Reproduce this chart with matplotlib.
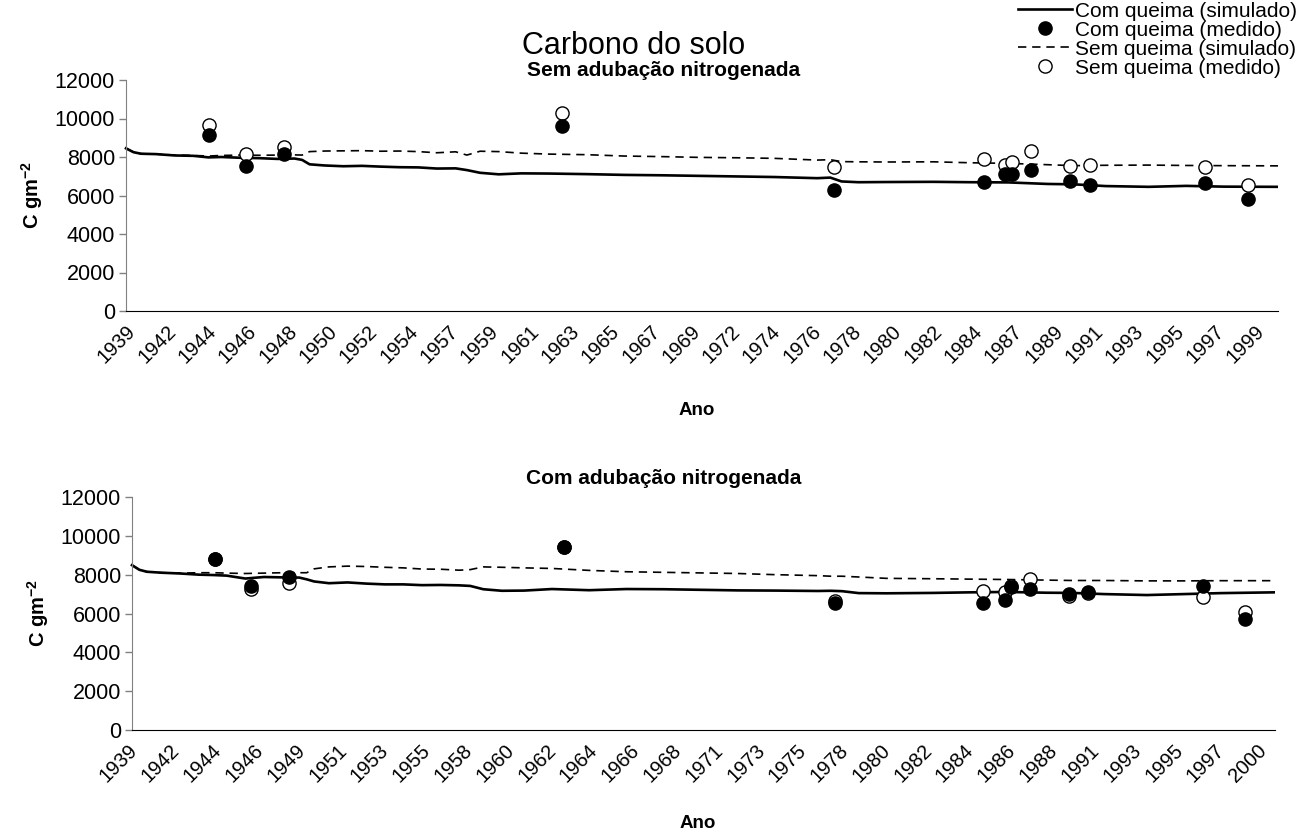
import matplotlib
matplotlib.use("Agg")
import matplotlib.pyplot as plt
from matplotlib.lines import Line2D
import numpy as np

plt.rcParams['font.family'] = ['Liberation Sans', 'DejaVu Sans']
plt.rcParams['mathtext.fontset'] = 'custom'
plt.rcParams['mathtext.rm'] = 'Liberation Sans'
plt.rcParams['mathtext.bf'] = 'Liberation Sans:bold'

# simulated series (decimal year, g C m-2)
sim_years = [1939.4, 1939.8, 1940.2, 1941.0, 1942.0, 1943.0, 1943.8, 1944.5, 1945.5, 1946.5,
             1947.5, 1948.4, 1948.8, 1949.2, 1950.0, 1951.0, 1952.0, 1953.0, 1954.0, 1955.0,
             1956.0, 1957.0, 1957.6, 1958.3, 1959.3, 1960.5, 1962.0, 1964.0, 1966.0, 1968.0,
             1970.0, 1972.0, 1974.0, 1976.3, 1977.0, 1977.6, 1978.5, 1980.0, 1982.5, 1984.5,
             1986.5, 1988.6, 1990.0, 1991.7, 1994.0, 1996.0, 1998.0, 2000.9]

top_com_sim = [8450, 8250, 8170, 8150, 8080, 8060, 7980, 8000, 7960, 7940,
               7900, 7920, 7850, 7620, 7560, 7520, 7540, 7500, 7470, 7460,
               7400, 7410, 7320, 7180, 7100, 7150, 7140, 7110, 7070, 7050,
               7020, 6990, 6960, 6900, 6930, 6730, 6690, 6700, 6710, 6690,
               6680, 6600, 6580, 6490, 6450, 6500, 6460, 6450]
top_sem_sim = [8450, 8250, 8170, 8150, 8100, 8080, 8050, 8080, 8100, 8090,
               8100, 8110, 8100, 8280, 8310, 8320, 8330, 8300, 8310, 8280,
               8220, 8270, 8100, 8300, 8280, 8200, 8150, 8120, 8050, 8020,
               7980, 7960, 7930, 7840, 7860, 7760, 7750, 7740, 7750, 7700,
               7670, 7600, 7550, 7570, 7580, 7560, 7550, 7540]
bot_com_sim = [8490, 8250, 8150, 8100, 8060, 8000, 7980, 7950, 7800, 7880,
               7860, 7850, 7760, 7650, 7560, 7600, 7540, 7500, 7500, 7460,
               7470, 7450, 7420, 7250, 7170, 7180, 7260, 7200, 7260, 7250,
               7220, 7190, 7180, 7160, 7170, 7150, 7050, 7040, 7060, 7090,
               7110, 7070, 7060, 7000, 6950, 7000, 7050, 7090]
bot_sem_sim = [8490, 8250, 8150, 8100, 8080, 8100, 8100, 8080, 8060, 8080,
               8100, 8100, 8100, 8300, 8400, 8440, 8420, 8380, 8350, 8290,
               8280, 8230, 8260, 8400, 8380, 8350, 8320, 8220, 8150, 8120,
               8090, 8060, 8000, 7950, 7920, 7920, 7880, 7810, 7790, 7770,
               7750, 7720, 7700, 7700, 7680, 7680, 7690, 7690]

# measured
obs_years = [1943.85, 1945.8, 1947.85, 1962.65, 1977.2, 1985.2, 1986.35, 1986.7,
             1987.7, 1989.8, 1990.85, 1997.0, 1999.3]
top_com_obs = [9140, 7530, 8180, 9610, 6280, 6680, 7110, 7110, 7350, 6760, 6540, 6660, 5800]
top_sem_obs = [9660, 8130, 8500, 10300, 7460, 7890, 7580, 7750, 8320, 7540, 7610, 7490, 6540]
bot_com_obs = [8830, 7430, 7890, 9430, 6520, 6550, 6720, 7380, 7260, 7030, 7120, 7400, 5740]
bot_sem_obs = [8830, 7260, 7550, 9430, 6640, 7170, 7120, 7420, 7770, 6900, 7060, 6850, 6080]

top_labels = ['1939', '1942', '1944', '1946', '1948', '1950', '1952', '1954', '1957', '1959',
              '1961', '1963', '1965', '1967', '1969', '1972', '1974', '1976', '1978', '1980',
              '1982', '1984', '1987', '1989', '1991', '1993', '1995', '1997', '1999']
bot_labels = ['1939', '1942', '1944', '1946', '1949', '1951', '1953', '1955', '1958', '1960',
              '1962', '1964', '1966', '1968', '1971', '1973', '1975', '1978', '1980', '1982',
              '1984', '1986', '1988', '1991', '1993', '1995', '1997', '2000']

legend_labels = ['Com queima (simulado)', 'Com queima (medido)',
                 'Sem queima (simulado)', 'Sem queima (medido)']

X0, X1 = 1939.4, 2000.9   # drawn extent of the time axis
XPAD = 1938.8             # room on the left for the first category label

FS = 14.5
W, H = 1300, 836
TITLE_X = 664             # panel titles sit a bit left of the axes centre
fig = plt.figure(figsize=(13, 8.36), dpi=100)


def make_axes(left_px, right_px, top_px, bottom_px):
    ppy = (right_px - left_px) / (X1 - X0)
    l = left_px - (X0 - XPAD) * ppy
    ax = fig.add_axes([l / W, 1 - bottom_px / H, (right_px - l) / W,
                       (bottom_px - top_px) / H])
    return ax, (TITLE_X - l) / (right_px - l)


ax1, tx1 = make_axes(126, 1278, 80, 311)
ax2, tx2 = make_axes(132, 1275, 497, 730)


def draw(ax, com_sim, sem_sim, com_obs, sem_obs, labels, start, step, title, tx, tpad, xpad):
    ax.plot(sim_years, com_sim, color='black', lw=1.9, zorder=2)
    ax.plot(sim_years, sem_sim, color='black', lw=1.2, ls=(0, (5, 3.5)), zorder=2)
    ax.plot(obs_years, sem_obs, 'o', ms=9.5, mfc='white', mec='black', mew=1.0, zorder=3)
    ax.plot(obs_years, com_obs, 'o', ms=9.5, mfc='black', mec='black', zorder=4)
    ax.set_xlim(XPAD, X1)
    ax.set_ylim(0, 12000)
    ax.set_yticks(range(0, 12001, 2000))
    ax.set_xticks(start + step * np.arange(len(labels)))
    ax.set_xticklabels(labels, rotation=45, ha='right', va='top', rotation_mode='anchor')
    ax.tick_params(axis='x', length=0, pad=8, labelsize=FS)
    ax.tick_params(axis='y', length=5, width=1, color='#808080', labelsize=15.5, pad=3)
    for s in ['top', 'right']:
        ax.spines[s].set_visible(False)
    ax.spines['left'].set_position(('data', X0))
    ax.spines['left'].set_color('#808080')
    ax.spines['bottom'].set_bounds(X0, X1)
    ax.spines['bottom'].set_color('black')
    ax.set_ylabel(r'C gm$^{\mathbf{-2}}$', fontsize=FS, fontweight='bold', labelpad=7)
    ax.set_xlabel('Ano', fontsize=FS - 1, fontweight='bold', labelpad=xpad)
    ax.set_title(title, fontsize=15, fontweight='bold', x=tx, pad=tpad)


draw(ax1, top_com_sim, top_sem_sim, top_com_obs, top_sem_obs, top_labels, 1939.4, 2.152,
     'Sem adubação nitrogenada', tx1, 3, 25)
draw(ax2, bot_com_sim, bot_sem_sim, bot_com_obs, bot_sem_obs, bot_labels, 1939.19, 2.249,
     'Com adubação nitrogenada', tx2, 9, 21)

fig.text(0.487, 0.945, 'Carbono do solo', fontsize=22, ha='center', va='center')

handles = [Line2D([], [], color='black', lw=1.9),
           Line2D([], [], ls='', marker='o', ms=9.5, mfc='black', mec='black'),
           Line2D([], [], color='black', lw=1.2, ls=(0, (5, 3.5))),
           Line2D([], [], ls='', marker='o', ms=9.5, mfc='white', mec='black', mew=1.0)]
fig.legend(handles, legend_labels, loc='upper right', bbox_to_anchor=(0.998, 0.998),
           frameon=False, fontsize=15, handlelength=2.6, handletextpad=0.15,
           labelspacing=0.0, borderpad=0, borderaxespad=0)

fig.savefig('out.png', dpi=100)
